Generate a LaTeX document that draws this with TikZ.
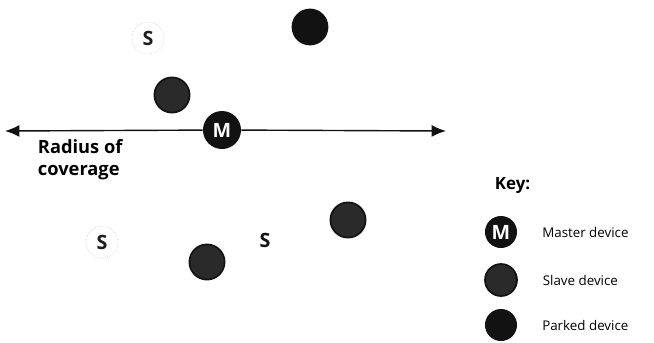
\documentclass[tikz,border=0pt]{standalone}
\usepackage{fontspec}
\setmainfont{Open Sans}
\usetikzlibrary{positioning,arrows.meta}
\definecolor{DeviceInk}{RGB}{18,18,18}
\definecolor{FadedInk}{RGB}{30,30,30}
\tikzset{
  reach/.style={-{Latex[length=3.6mm,width=3mm]},line width=1pt,draw=DeviceInk},
  masterdev/.style={circle,fill=DeviceInk,text=white,minimum size=0.95cm,inner sep=0pt,
    font=\fontsize{14}{14}\selectfont\bfseries},
  slavedev/.style={circle,fill=DeviceInk!90,draw=DeviceInk,line width=1.2pt,minimum size=0.88cm,inner sep=0pt},
  parkeddev/.style={circle,fill=DeviceInk,minimum size=0.92cm,inner sep=0pt},
  fadeddev/.style={circle,draw=FadedInk!30,densely dotted,text=FadedInk,minimum size=0.8cm,inner sep=0pt,
    font=\fontsize{14}{14}\selectfont\bfseries},
  bareletter/.style={text=DeviceInk,inner sep=0pt,font=\fontsize{14}{14}\selectfont\bfseries},
  notetext/.style={font=\fontsize{13}{15.5}\selectfont\bfseries,align=left,anchor=west},
  keytext/.style={font=\fontsize{9.5}{11}\selectfont},
  keymark/.style={minimum size=0.8cm}
}
\begin{document}
\begin{tikzpicture}[x=0.025cm,y=-0.025cm]
  \useasboundingbox (0,0) rectangle (654,343);

  % master and its range
  \node[masterdev] (master) at (222,130) {M};
  \coordinate (rangeL) at (5,131);
  \coordinate (rangeR) at (446,131);
  \draw[reach] (master) -- (rangeL);
  \draw[reach] (master) -- (rangeR);
  \node[notetext] (radius) at (33,160) {Radius of\\coverage};

  % devices around the master
  \node[fadeddev] (s1) at (148,38) {S};
  \node[parkeddev] (p1) at (310,27) {};
  \node[slavedev] (s2) at (172,95) {};
  \node[fadeddev] (s3) at (102,242) {S};
  \node[slavedev] (s4) at (207,262) {};
  \node[bareletter] (s5) at (265,240) {S};
  \node[slavedev] (s6) at (348,220) {};

  % key
  \node[font=\fontsize{12}{14}\selectfont\bfseries,anchor=west] (key) at (490,186) {Key:};
  \node[masterdev,keymark] (kmaster) at (501,232) {M};
  \node[slavedev,keymark] (kslave) at (501,280) {};
  \node[parkeddev,keymark] (kparked) at (501,325) {};
  \node[keytext,right=0.5cm of kmaster] (tmaster) {Master device};
  \node[keytext,right=0.5cm of kslave] (tslave) {Slave device};
  \node[keytext,right=0.5cm of kparked] (tparked) {Parked device};
\end{tikzpicture}
\end{document}
